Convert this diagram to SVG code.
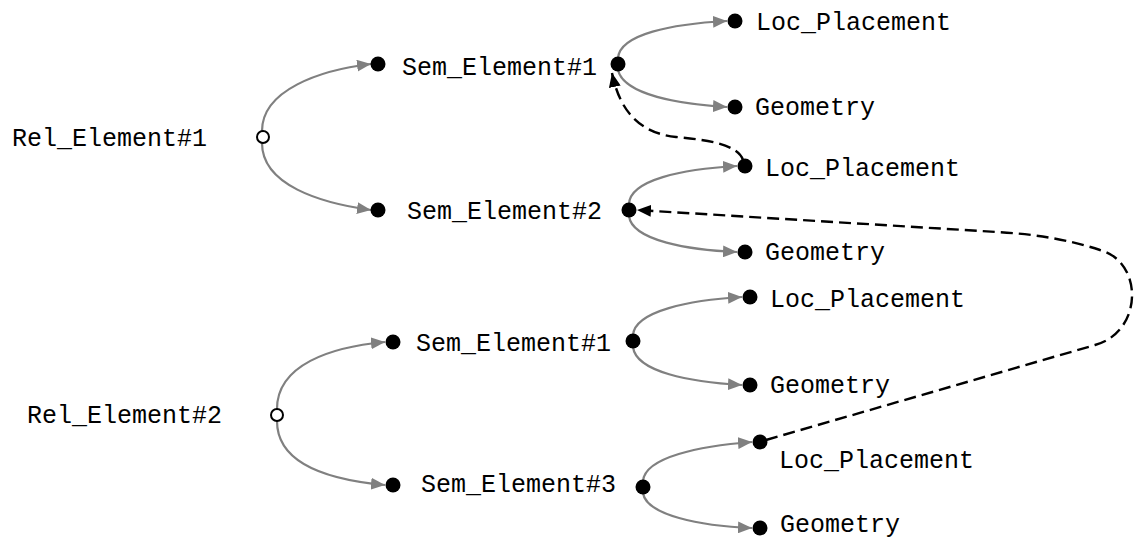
<svg xmlns="http://www.w3.org/2000/svg" width="1135" height="539" viewBox="0 0 1135 539">
<defs>
<style>
.t{font-family:"Liberation Mono","Courier New",monospace;font-size:25px;fill:#000}
.d{fill:#000}
.o{fill:#fff;stroke:#000;stroke-width:2}
.g{fill:none;stroke:#808080;stroke-width:2.2;marker-end:url(#ga)}
.k{fill:none;stroke:#000;stroke-width:2.4;stroke-dasharray:12,6;marker-end:url(#ka)}
</style>
<marker id="ga" markerUnits="userSpaceOnUse" markerWidth="14" markerHeight="12" refX="14" refY="6" orient="auto" viewBox="0 0 14 12">
<path d="M0,0 L14,6 L0,12 z" fill="#808080"/>
</marker>
<marker id="ka" markerUnits="userSpaceOnUse" markerWidth="14" markerHeight="12" refX="14" refY="6" orient="auto" viewBox="0 0 14 12">
<path d="M0,0 L14,6 L0,12 z" fill="#000"/>
</marker>
</defs>
<rect width="1135" height="539" fill="#fff"/>
<g id="connectors">
<path class="g" d="M262,131 C262,90 320,70 371,64"/>
<path class="g" d="M262,143 C262,185 320,203 371,210"/>
<path class="g" d="M618,58 C620,34 672,24 727,21"/>
<path class="g" d="M618,70 C624,95 680,104 727,107"/>
<path class="g" d="M629,204 C630,180 682,169 737,166"/>
<path class="g" d="M629,216 C632,241 690,250 737,252"/>
<path class="g" d="M277,409 C277,365 330,347 385,342"/>
<path class="g" d="M277,421 C277,465 330,480 385,485"/>
<path class="g" d="M633,335 C635,311 690,300 742,297"/>
<path class="g" d="M633,347 C636,372 690,382 742,385"/>
<path class="g" d="M643,481 C645,457 700,446 752,442"/>
<path class="g" d="M643,493 C646,515 700,526 752,528"/>
<path class="k" d="M743,160 C738,145 710,140 676,137 C640,133 620,112 612,73"/>
<path class="k" d="M766,440 L1095,345 C1143,332 1144,262 1100,250 C1070,240 1035,234 997,232 L637,210"/>
</g>
<g id="rel1"><circle class="o" cx="263" cy="137" r="6"/><text class="t" x="12" y="146">Rel_Element#1</text></g>
<g id="sem1a"><circle class="d" cx="378" cy="64" r="7.5"/><text class="t" x="402" y="75">Sem_Element#1</text></g>
<g id="sem1a-hub"><circle class="d" cx="618" cy="64" r="7.5"/></g>
<g id="loc1a"><circle class="d" cx="735" cy="21" r="7.5"/><text class="t" x="756" y="30">Loc_Placement</text></g>
<g id="geo1a"><circle class="d" cx="735" cy="107" r="7.5"/><text class="t" x="755" y="115">Geometry</text></g>
<g id="sem2"><circle class="d" cx="378" cy="210" r="7.5"/><text class="t" x="407" y="219">Sem_Element#2</text></g>
<g id="sem2-hub"><circle class="d" cx="629" cy="210" r="7.5"/></g>
<g id="loc2"><circle class="d" cx="745" cy="166" r="7.5"/><text class="t" x="765" y="176">Loc_Placement</text></g>
<g id="geo2"><circle class="d" cx="745" cy="252" r="7.5"/><text class="t" x="765" y="260">Geometry</text></g>
<g id="rel2"><circle class="o" cx="277" cy="415" r="6"/><text class="t" x="27" y="423">Rel_Element#2</text></g>
<g id="sem1b"><circle class="d" cx="393" cy="342" r="7.5"/><text class="t" x="416" y="351">Sem_Element#1</text></g>
<g id="sem1b-hub"><circle class="d" cx="633" cy="341" r="7.5"/></g>
<g id="loc1b"><circle class="d" cx="750" cy="297" r="7.5"/><text class="t" x="770" y="307">Loc_Placement</text></g>
<g id="geo1b"><circle class="d" cx="750" cy="385" r="7.5"/><text class="t" x="770" y="393">Geometry</text></g>
<g id="sem3"><circle class="d" cx="393" cy="485" r="7.5"/><text class="t" x="421" y="492">Sem_Element#3</text></g>
<g id="sem3-hub"><circle class="d" cx="643" cy="487" r="7.5"/></g>
<g id="loc3"><circle class="d" cx="760" cy="442" r="7.5"/><text class="t" x="779" y="468">Loc_Placement</text></g>
<g id="geo3"><circle class="d" cx="760" cy="528" r="7.5"/><text class="t" x="780" y="532">Geometry</text></g>
</svg>
